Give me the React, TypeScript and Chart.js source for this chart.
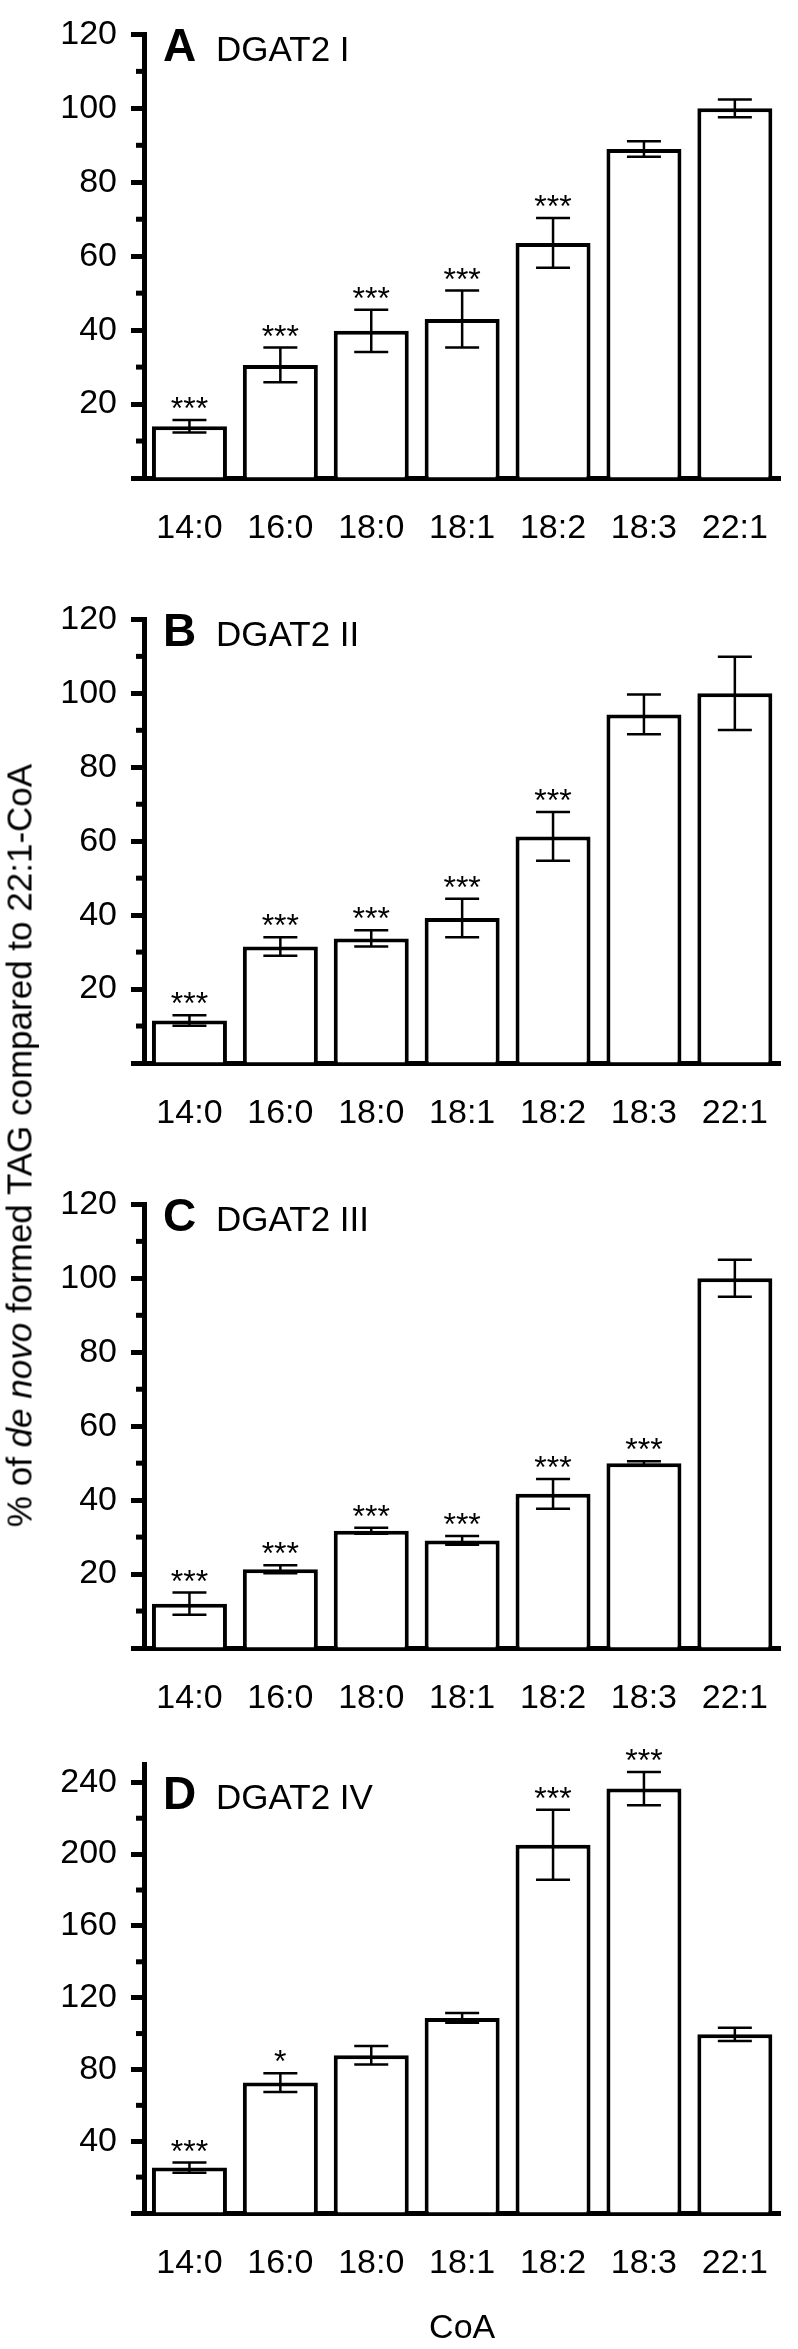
import { useEffect, useRef } from 'react'
import { Chart, registerables } from 'chart.js'

Chart.register(...registerables)

const FONT = "'Liberation Sans', Arial, Helvetica, sans-serif"

const coaLabels = ['14:0', '16:0', '18:0', '18:1', '18:2', '18:3', '22:1']

// A – DGAT2 I
const dgat1Values = [14, 30.6, 39.8, 43, 63.6, 89, 100]
const dgat1Errors = [1.7, 4.7, 5.7, 7.7, 6.7, 2.1, 2.4]
const dgat1Stars = ['***', '***', '***', '***', '***', '', '']

// B – DGAT2 II
const dgat2Values = [11.5, 31.5, 33.7, 39.2, 61.3, 94.3, 100]
const dgat2Errors = [1.4, 2.5, 2.2, 5.2, 6.6, 5.4, 9.9]
const dgat2Stars = ['***', '***', '***', '***', '***', '', '']

// C – DGAT2 III
const dgat3Values = [12, 21.3, 31.7, 29.1, 41.7, 50, 100]
const dgat3Errors = [3, 1.1, 0.8, 1.2, 4, 0.5, 5]
const dgat3Stars = ['***', '***', '***', '***', '***', '***', '']

// D – DGAT2 IV
const dgat4Values = [25.3, 72.7, 87.9, 108.7, 205.2, 236.5, 99.6]
const dgat4Errors = [2.8, 5.2, 5.2, 2.7, 19.5, 9.3, 3.7]
const dgat4Stars = ['***', '*', '', '', '***', '***', '']

interface Panel {
  letter: string
  name: string
  values: number[]
  errors: number[]
  stars: string[]
  max: number
  step: number
  top: number
  height: number
  padTop: number
  plotHeight: number
  xTitle?: string
}

const panels: Panel[] = [
  { letter: 'A', name: 'DGAT2 I', values: dgat1Values, errors: dgat1Errors, stars: dgat1Stars, max: 120, step: 20, top: 0, height: 585, padTop: 15, plotHeight: 463 },
  { letter: 'B', name: 'DGAT2 II', values: dgat2Values, errors: dgat2Errors, stars: dgat2Stars, max: 120, step: 20, top: 585, height: 585, padTop: 15, plotHeight: 463 },
  { letter: 'C', name: 'DGAT2 III', values: dgat3Values, errors: dgat3Errors, stars: dgat3Stars, max: 120, step: 20, top: 1170, height: 585, padTop: 15, plotHeight: 463 },
  { letter: 'D', name: 'DGAT2 IV', values: dgat4Values, errors: dgat4Errors, stars: dgat4Stars, max: 250, step: 40, top: 1730, height: 619, padTop: 25, plotHeight: 458, xTitle: 'CoA' },
]

// minor ticks, error bars, significance stars and panel label
function extrasPlugin(p: Panel) {
  return {
    id: 'panelExtras',
    // eslint-disable-next-line @typescript-eslint/no-explicit-any
    afterDatasetsDraw(chart: any) {
      const { ctx, chartArea } = chart
      const y = chart.scales.y
      const meta = chart.getDatasetMeta(0)
      ctx.save()
      ctx.strokeStyle = '#000'
      ctx.fillStyle = '#000'

      ctx.lineWidth = 5
      for (let v = p.step / 2; v < p.max; v += p.step) {
        const py = y.getPixelForValue(v)
        ctx.beginPath()
        ctx.moveTo(chartArea.left - 8, py)
        ctx.lineTo(chartArea.left, py)
        ctx.stroke()
      }

      ctx.lineWidth = 2.5
      ctx.font = `32px ${FONT}`
      ctx.textAlign = 'center'
      ctx.textBaseline = 'alphabetic'
      // eslint-disable-next-line @typescript-eslint/no-explicit-any
      meta.data.forEach((bar: any, i: number) => {
        const x = bar.x
        const hi = y.getPixelForValue(p.values[i] + p.errors[i])
        const lo = y.getPixelForValue(p.values[i] - p.errors[i])
        ctx.beginPath()
        ctx.moveTo(x, hi)
        ctx.lineTo(x, lo)
        ctx.moveTo(x - 17, hi)
        ctx.lineTo(x + 17, hi)
        ctx.moveTo(x - 17, lo)
        ctx.lineTo(x + 17, lo)
        ctx.stroke()
        if (p.stars[i]) ctx.fillText(p.stars[i], x, hi - 1)
      })

      const topTick = Math.floor(p.max / p.step) * p.step
      const ty = y.getPixelForValue(topTick) + 27
      ctx.textAlign = 'left'
      ctx.font = `bold 46px ${FONT}`
      ctx.fillText(p.letter, chartArea.left + 19, ty)
      ctx.font = `35px ${FONT}`
      ctx.fillText(p.name, chartArea.left + 72, ty)
      ctx.restore()
    },
  }
}

function PanelChart({ panel }: { panel: Panel }) {
  const canvasRef = useRef<HTMLCanvasElement>(null)

  useEffect(() => {
    if (!canvasRef.current) return
    const chart = new Chart(canvasRef.current, {
      type: 'bar',
      data: {
        labels: coaLabels,
        datasets: [
          {
            data: panel.values,
            backgroundColor: '#fff',
            borderColor: '#000',
            borderWidth: 4,
            borderSkipped: 'bottom',
            barPercentage: 0.825,
            categoryPercentage: 1,
          },
        ],
      },
      options: {
        responsive: false,
        animation: false,
        layout: { padding: { top: panel.padTop, right: 1, left: 0, bottom: 0 } },
        plugins: { legend: { display: false }, tooltip: { enabled: false } },
        scales: {
          x: {
            z: 1,
            grid: { display: true, drawOnChartArea: false, drawTicks: false },
            border: { display: true, color: '#000', width: 5 },
            ticks: {
              color: '#000',
              font: { family: FONT, size: 34 },
              padding: 30,
              maxRotation: 0,
              autoSkip: false,
            },
            title: {
              display: !!panel.xTitle,
              text: panel.xTitle || '',
              color: '#000',
              font: { family: FONT, size: 34 },
              padding: 0,
            },
            // eslint-disable-next-line @typescript-eslint/no-explicit-any
            afterFit: (s: any) => {
              s.height = panel.height - panel.padTop - panel.plotHeight
            },
          },
          y: {
            z: 1,
            min: 0,
            max: panel.max,
            grid: {
              drawOnChartArea: false,
              drawTicks: true,
              tickLength: 13,
              tickWidth: 5,
              tickColor: '#000',
              color: '#000',
            },
            border: { display: true, color: '#000', width: 5 },
            ticks: {
              stepSize: panel.step,
              includeBounds: false,
              padding: 14,
              color: '#000',
              font: { family: FONT, size: 34 },
              callback: (v: number | string) => (Number(v) === 0 ? '' : String(v)),
            },
            // eslint-disable-next-line @typescript-eslint/no-explicit-any
            afterFit: (s: any) => {
              s.width = 144
            },
          },
        },
      },
      plugins: [extrasPlugin(panel)],
    })
    return () => chart.destroy()
  }, [panel])

  return (
    <canvas
      ref={canvasRef}
      width={798}
      height={panel.height}
      style={{ position: 'absolute', left: 0, top: panel.top, width: 798, height: panel.height }}
    />
  )
}

export default function App() {
  return (
    <div style={{ position: 'absolute', left: 0, top: 0, width: 798, height: 2349, background: '#fff' }}>
      {panels.map((p) => (
        <PanelChart key={p.letter} panel={p} />
      ))}
      <div
        style={{
          position: 'absolute',
          left: 19 - 400,
          top: 1145 - 17.5,
          width: 800,
          height: 35,
          lineHeight: '35px',
          fontSize: 35,
          fontFamily: FONT,
          textAlign: 'center',
          whiteSpace: 'nowrap',
          color: '#000',
          transform: 'rotate(-90deg)',
        }}
      >
        % of <i>de novo</i> formed TAG compared to 22:1-CoA
      </div>
    </div>
  )
}
